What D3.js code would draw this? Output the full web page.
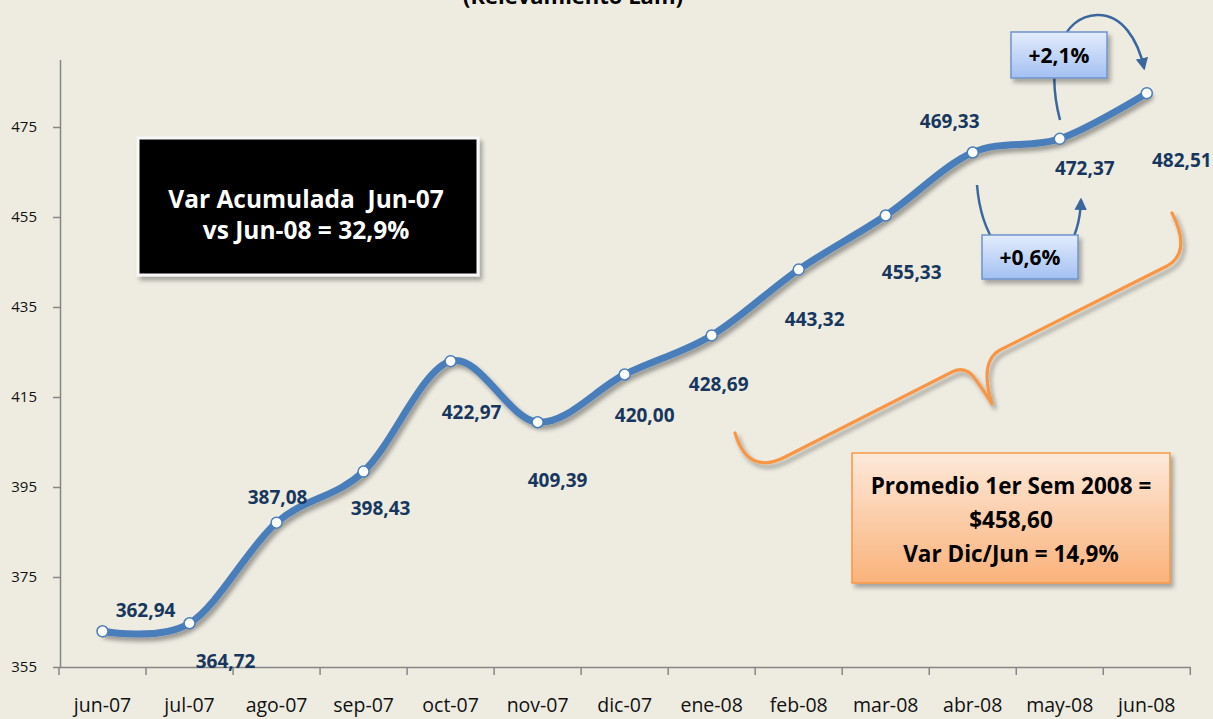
<!DOCTYPE html>
<html>
<head>
<meta charset="utf-8">
<script src="https://cdn.jsdelivr.net/npm/d3@7"></script>
<style>
  html, body { margin: 0; padding: 0; background: #EEECE1; }
  svg { display: block; font-family: "Open Sans", "Noto Sans", sans-serif; }
</style>
</head>
<body>
<svg id="chart" width="1213" height="719"></svg>
<script>
// ---- data ----
const categories = ["jun-07","jul-07","ago-07","sep-07","oct-07","nov-07","dic-07","ene-08","feb-08","mar-08","abr-08","may-08","jun-08"];
const values = [362.94, 364.72, 387.08, 398.43, 422.97, 409.39, 420.00, 428.69, 443.32, 455.33, 469.33, 472.37, 482.51];
const yTicks = [355, 375, 395, 415, 435, 455, 475];
const valueLabels = ["362,94","364,72","387,08","398,43","422,97","409,39","420,00","428,69","443,32","455,33","469,33","472,37","482,51"];
const titleText = "(Relevamiento Lam)";
const boxBlackLines = ["Var Acumulada  Jun-07", "vs Jun-08 = 32,9%"];
const boxOrangeLines = ["Promedio 1er Sem 2008 =", "$458,60", "Var Dic/Jun = 14,9%"];
const boxVar1 = "+2,1%";
const boxVar2 = "+0,6%";

// ---- layout (label offsets from their points, px) ----
const labelOffsets = [[43,-21],[36,38],[1,-26],[17,36],[21,51],[20,58],[20,40],[7,49],[16,49],[26,56],[-23,-32],[25,29],[35,67]];

const svg = d3.select("#chart");
const W = 1213, H = 719;
svg.append("rect").attr("width", W).attr("height", H).attr("fill", "#EEECE1");

const defs = svg.append("defs");
const f = defs.append("filter").attr("id","shadow").attr("x","-10%").attr("y","-10%").attr("width","130%").attr("height","140%");
f.append("feDropShadow").attr("dx",3).attr("dy",4).attr("stdDeviation",2).attr("flood-color","#000").attr("flood-opacity",0.35);
const f2 = defs.append("filter").attr("id","boxshadow").attr("x","-10%").attr("y","-10%").attr("width","130%").attr("height","140%");
f2.append("feDropShadow").attr("dx",3).attr("dy",4).attr("stdDeviation",2).attr("flood-color","#000").attr("flood-opacity",0.3);

const gBlue = defs.append("linearGradient").attr("id","gBlue").attr("x1",0).attr("y1",0).attr("x2",0).attr("y2",1);
gBlue.append("stop").attr("offset","0%").attr("stop-color","#E3ECFC");
gBlue.append("stop").attr("offset","100%").attr("stop-color","#A3C0F2");
const gOr = defs.append("linearGradient").attr("id","gOr").attr("x1",0).attr("y1",0).attr("x2",0).attr("y2",1);
gOr.append("stop").attr("offset","0%").attr("stop-color","#FDE9DA");
gOr.append("stop").attr("offset","100%").attr("stop-color","#FAB27A");

defs.append("marker").attr("id","arrow").attr("viewBox","0 0 10 10").attr("refX",8).attr("refY",5)
  .attr("markerWidth",5).attr("markerHeight",5).attr("orient","auto-start-reverse").attr("markerUnits","strokeWidth")
  .append("path").attr("d","M0,0 L10,5 L0,10 z").attr("fill","#3B679E");

// ---- scales ----
const x = d3.scaleBand().domain(categories).range([59, 1190.3]);
const y = d3.scaleLinear().domain([355, 490]).range([667, 59.5]);
const cx = c => x(c) + x.bandwidth() / 2;

// title (cut at top edge, as in the reference)
svg.append("text").attr("x", 573).attr("y", 3.5).attr("text-anchor","middle")
  .attr("font-weight","bold").attr("font-size", 22).attr("fill","#000").text(titleText);

// y axis
const yAxis = svg.append("g").attr("transform","translate(60,0)")
  .call(d3.axisLeft(y).tickValues(yTicks).tickSize(7).tickSizeOuter(0).tickPadding(16).tickFormat(d3.format("d")));
yAxis.select(".domain").attr("stroke","#868686").attr("stroke-width",1.5);
yAxis.selectAll(".tick line").attr("stroke","#868686").attr("stroke-width",1.5);
yAxis.selectAll(".tick text").attr("font-size",15).attr("fill","#111").attr("font-family","'Open Sans', sans-serif");

// x axis
const xAxis = svg.append("g").attr("transform","translate(0,667)")
  .call(d3.axisBottom(x).tickSize(0).tickSizeOuter(0).tickPadding(31));
xAxis.select(".domain").attr("stroke","#868686").attr("stroke-width",1.5);
xAxis.selectAll(".tick text").attr("font-size",19.5).attr("fill","#111").attr("font-family","'Open Sans', sans-serif");
const edges = categories.map(c => x(c)).concat([x.range()[1]]);
xAxis.selectAll("line.edge").data(edges).enter().append("line").attr("class","edge")
  .attr("x1", d => d).attr("x2", d => d).attr("y1", 0).attr("y2", 8)
  .attr("stroke","#868686").attr("stroke-width",1.5);

// line
const line = d3.line().x((d,i) => cx(categories[i])).y(d => y(d)).curve(d3.curveCardinal.tension(0));
svg.append("path").datum(values).attr("d", line).attr("fill","none")
  .attr("stroke","#4A7EBB").attr("stroke-width",7).attr("stroke-linecap","round").attr("filter","url(#shadow)");

// markers
svg.selectAll("circle.pt").data(values).enter().append("circle").attr("class","pt")
  .attr("cx",(d,i) => cx(categories[i])).attr("cy", d => y(d)).attr("r",5.5)
  .attr("fill","#fff").attr("stroke","#4A7EBB").attr("stroke-width",1.5);

// value labels
svg.selectAll("text.vl").data(values).enter().append("text").attr("class","vl")
  .attr("x",(d,i) => cx(categories[i]) + labelOffsets[i][0])
  .attr("y",(d,i) => y(d) + labelOffsets[i][1] + 7)
  .attr("text-anchor","middle").attr("font-weight","bold").attr("font-size",19).attr("fill","#17375E")
  .text((d,i) => valueLabels[i]);

// black box
svg.append("rect").attr("x",138).attr("y",138).attr("width",340).attr("height",137)
  .attr("fill","#000").attr("stroke","#F8F8F8").attr("stroke-width",3).attr("filter","url(#boxshadow)");
svg.selectAll("text.bb").data(boxBlackLines).enter().append("text").attr("class","bb")
  .attr("x",306).attr("y",(d,i) => 208 + i*31).attr("text-anchor","middle")
  .attr("font-weight","bold").attr("font-size",24.5).attr("fill","#fff").style("white-space","pre").text(d => d);

// orange brace
svg.append("path")
  .attr("d","M735,433 Q748,476 785,457 L952,372 Q966,365 976,380 Q986,394 992,404 Q979,362 1000,350 L1167,266 Q1192,252 1172,213")
  .attr("fill","none").attr("stroke","#F79646").attr("stroke-width",3.2).attr("stroke-linecap","round").attr("stroke-linejoin","round")
  .attr("filter","url(#shadow)");

// orange box
svg.append("rect").attr("x",852).attr("y",453).attr("width",318).attr("height",130)
  .attr("fill","url(#gOr)").attr("stroke","#F79646").attr("stroke-width",1.5).attr("filter","url(#boxshadow)");
svg.selectAll("text.ob").data(boxOrangeLines).enter().append("text").attr("class","ob")
  .attr("x",1011).attr("y",(d,i) => 494 + i*34).attr("text-anchor","middle")
  .attr("font-weight","bold").attr("font-size",22.5).attr("fill","#000").text(d => d);

// arrows
svg.append("path").attr("d","M1060,120 C1045,62 1062,16 1097,15 C1122,14 1138,40 1144,68")
  .attr("fill","none").attr("stroke","#3B679E").attr("stroke-width",2.5).attr("marker-end","url(#arrow)");
svg.append("path").attr("d","M977,185 C986,292 1078,292 1081,200")
  .attr("fill","none").attr("stroke","#3B679E").attr("stroke-width",2.5).attr("marker-end","url(#arrow)");

// blue boxes
function blueBox(x0, y0, w, h, txt) {
  svg.append("rect").attr("x",x0).attr("y",y0).attr("width",w).attr("height",h)
    .attr("fill","url(#gBlue)").attr("stroke","#6F94CC").attr("stroke-width",1.5).attr("filter","url(#boxshadow)");
  svg.append("text").attr("x",x0 + w/2).attr("y",y0 + h/2 + 7.5).attr("text-anchor","middle")
    .attr("font-weight","bold").attr("font-size",21).attr("fill","#000").text(txt);
}
blueBox(1011, 32, 96, 46, boxVar1);
blueBox(982, 235, 96, 44, boxVar2);
</script>
</body>
</html>
